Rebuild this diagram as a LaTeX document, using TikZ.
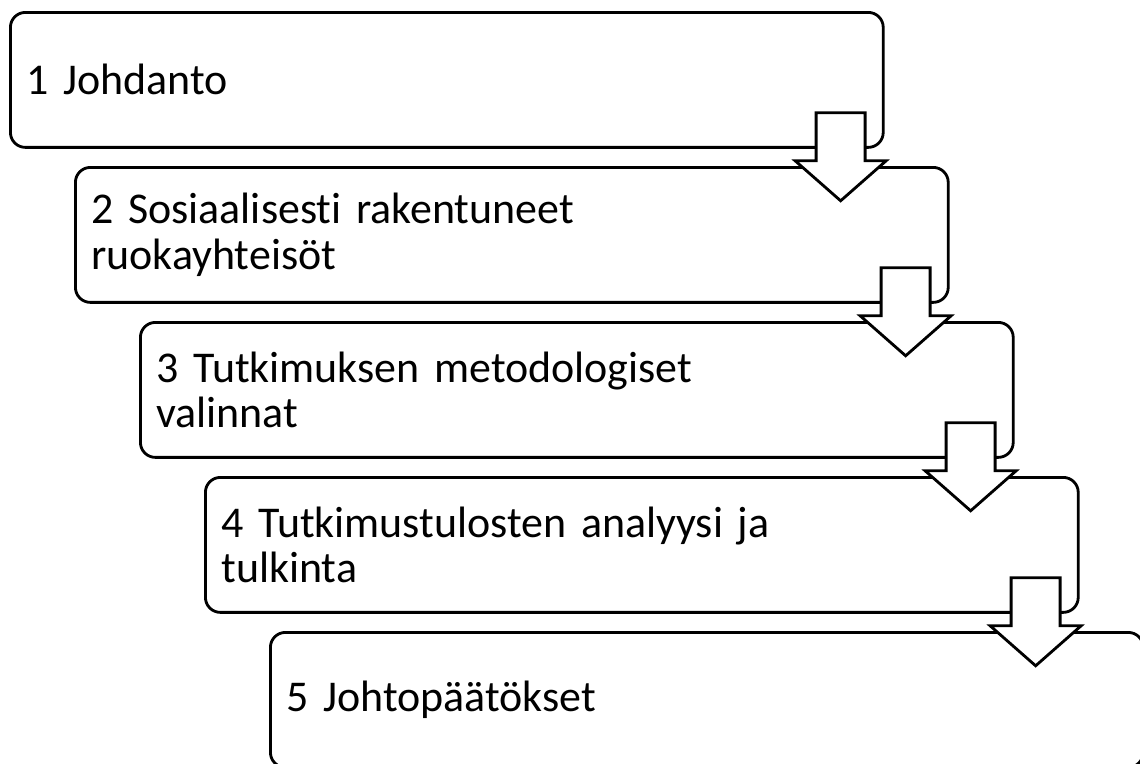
\documentclass[tikz,border=0pt]{standalone}
\usepackage{fontspec}
\setmainfont{Carlito}[Ligatures=NoCommon]
\tikzset{
    chapter/.style={draw,thick,line width=1.6pt,rectangle,rounded corners=0.3cm,
        anchor=north west,minimum height=2.7cm,text width=16.82cm,
        inner xsep=0.32cm,align=left,font=\fontsize{25}{25.8}\selectfont},
    downarrow/.pic={
        \draw[line width=1.6pt,fill=white,line join=miter]
            (-24.5,0) -- (24.5,0) -- (24.5,-48) -- (45.5,-48) -- (0,-88)
            -- (-45.5,-48) -- (-24.5,-48) -- cycle;
    }
}
\begin{document}
\begin{tikzpicture}[x=0.02cm,y=0.02cm]
        \useasboundingbox (0,0) rectangle (1140,-764);
        %% Chapters
        \node[chapter] (C1) at (9,-11) {1 Johdanto};
        \node[chapter] (C2) at (74,-166) {2 Sosiaalisesti rakentuneet\\ruokayhteisöt};
        \node[chapter] (C3) at (139,-321) {3 Tutkimuksen metodologiset\\valinnat};
        \node[chapter] (C4) at (204,-476) {4 Tutkimustulosten analyysi ja\\tulkinta};
        \node[chapter] (C5) at (269,-631) {5 Johtopäätökset};
        %% Arrows
        \foreach \i in {1,...,4}
            \pic at ([shift={(-44,36)}]C\i.south east) {downarrow};
    \end{tikzpicture}
\end{document}
